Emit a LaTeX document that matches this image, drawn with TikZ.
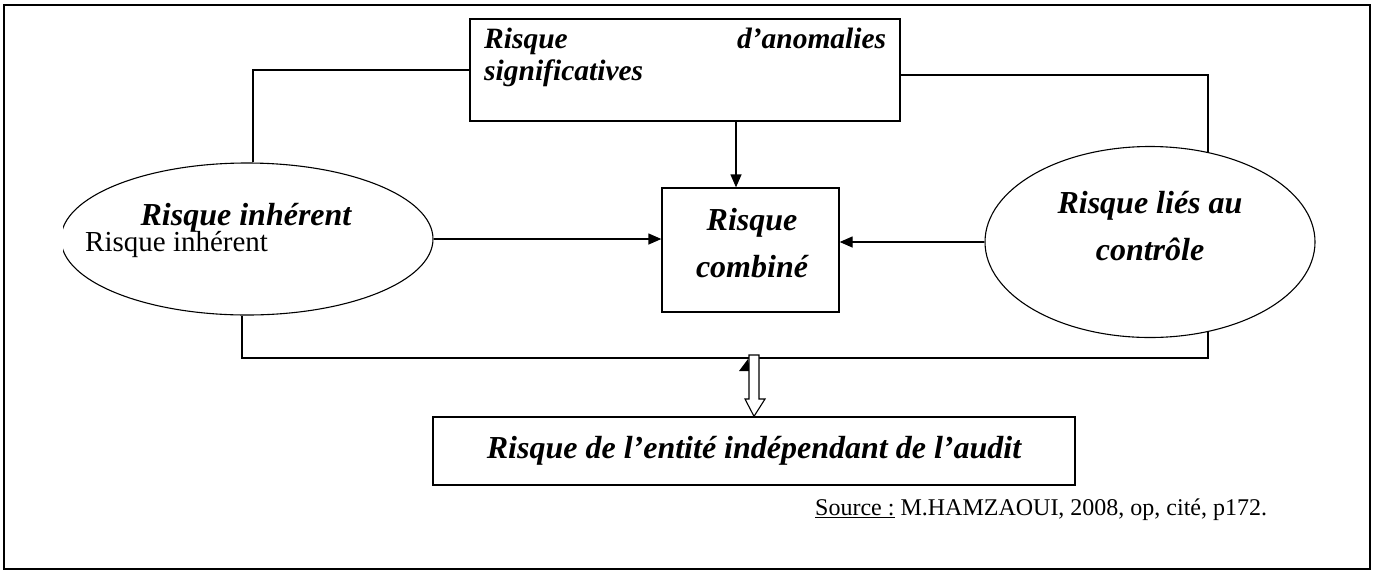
\documentclass[tikz,border=0pt]{standalone}
\usepackage{fontspec}
\setmainfont{Liberation Serif}
\usetikzlibrary{shapes.geometric,arrows.meta}
\begin{document}
\begin{tikzpicture}[x=1pt,y=-1pt,
  lbl/.style={font=\fontsize{32}{38}\selectfont\bfseries\itshape, inner sep=0pt},
  lbltop/.style={font=\fontsize{29.5}{35}\selectfont\bfseries\itshape, inner sep=0pt},
  box/.style={draw, line width=1.3pt},
  ell/.style={draw, ellipse, line width=1.1pt, inner sep=0pt},
  conn/.style={line width=1.3pt},
  arr/.style={conn, -{Triangle[length=13pt,width=11pt]}}]
\useasboundingbox (0,0) rectangle (1375,574);
\node[draw, line width=2.2pt, minimum width=1366pt, minimum height=564pt, inner sep=0pt] (frame) at (687,287) {};
% top box
\node[box, minimum width=430pt, minimum height=102pt] (top) at (685,70) {};
\node[lbltop, anchor=base west] (toptxta) at (484,48) {\makebox[402pt][s]{Risque\hfill d’anomalies}};
\node[lbltop, anchor=base west] (toptxtb) at (484,80) {significatives};
% combined
\node[box, minimum width=177pt, minimum height=124pt] (comb) at (750.5,250) {};
\node[lbl, anchor=base] (combA) at (752,230) {Risque};
\node[lbl, anchor=base] (combB) at (752,277) {combiné};
% left ellipse (clipped on its left side)
\begin{scope}
\clip (63,0) rectangle (1375,574);
\node[ell, minimum width=372pt, minimum height=152pt] (inh) at (247,239) {};
\end{scope}
\node[lbl, anchor=base] (inhb) at (246,225) {Risque inhérent};
\node[font=\fontsize{29}{33}\selectfont, anchor=base west, inner sep=0pt] (inhp) at (85,251) {Risque inhérent};
% right ellipse
\node[ell, minimum width=330pt, minimum height=191pt] (ctrl) at (1150,242) {};
\node[lbl, anchor=base] (ctrla) at (1150,213) {Risque liés au};
\node[lbl, anchor=base] (ctrlb) at (1150,260) {contrôle};
% bottom box
\node[box, lbl, minimum width=642pt, minimum height=68pt] (bot) at (754,451) {Risque de l’entité indépendant de l’audit};
% source
\node[font=\fontsize{24}{28}\selectfont, anchor=base west, inner sep=0pt] (src) at (815,515) {\underline{Source :} M.HAMZAOUI, 2008, op, cité, p172.};
% connectors
\coordinate (lt) at (253,70);
\coordinate (rt) at (1208,75);
\coordinate (lb) at (242,358);
\coordinate (rb) at (1208,358);
\coordinate (ta) at (736,0);
\draw[conn] (top.west) -- (lt) -- (lt |- inh.north);
\draw[conn] (top.east |- rt) -- (rt) -- (ctrl.57 -| rt);
\draw[conn] (inh.south -| lb) -- (lb) -- (rb) -- (ctrl.-57 -| rb);
\draw[arr] (top.south -| ta) -- (comb.north -| ta);
\draw[arr] (inh.east) -- (comb.west |- inh.east);
\draw[arr] (ctrl.west) -- (comb.east |- ctrl.west);
% small mark and hollow arrow
\fill (748,359) -- (750,371) -- (739,371) -- cycle;
\draw[line width=1.1pt, fill=white] (749,355) -- (759,355) -- (759,399) -- (765,399) -- (bot.north -| 754,0) -- (745,399) -- (749,399) -- cycle;
\end{tikzpicture}
\end{document}
